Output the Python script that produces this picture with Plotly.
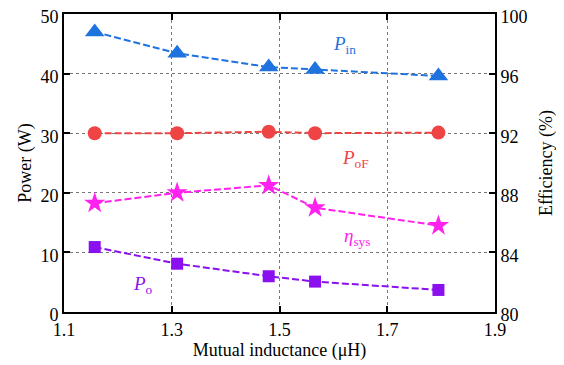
import plotly.graph_objects as go

mutual_inductance = [1.157, 1.31, 1.48, 1.566, 1.795]
p_in = [47.0, 43.4, 41.1, 40.7, 39.6]
p_of = [30.0, 30.0, 30.25, 30.0, 30.1]
p_o = [10.9, 8.1, 6.0, 5.1, 3.7]
eta_sys = [87.3, 88.0, 88.5, 87.0, 85.8]

left_ticks = [0, 10, 20, 30, 40, 50]
right_ticks = [80, 84, 88, 92, 96, 100]
x_ticks = [1.1, 1.3, 1.5, 1.7, 1.9]

C_IN = "#1f73de"
C_OF = "#ee4444"
C_ETA = "#ff22ee"
C_O = "#8a10f0"
FONT = "Times New Roman, Liberation Serif, serif"

fig = go.Figure()
dash = "7px,3px"
fig.add_trace(go.Scatter(x=mutual_inductance, y=p_in, mode="lines+markers",
                         line=dict(color=C_IN, width=2, dash=dash),
                         marker=dict(symbol="triangle-up", size=17, color=C_IN)))
fig.add_trace(go.Scatter(x=mutual_inductance, y=p_of, mode="lines+markers",
                         line=dict(color=C_OF, width=2, dash=dash),
                         marker=dict(symbol="circle", size=14, color=C_OF)))
fig.add_trace(go.Scatter(x=mutual_inductance, y=eta_sys, mode="lines+markers", yaxis="y2",
                         line=dict(color=C_ETA, width=2, dash=dash),
                         marker=dict(symbol="star", size=16, color=C_ETA)))
fig.add_trace(go.Scatter(x=mutual_inductance, y=p_o, mode="lines+markers",
                         line=dict(color=C_O, width=2, dash=dash),
                         marker=dict(symbol="square", size=12, color=C_O)))

ann_font = dict(family=FONT, size=19)
fig.add_annotation(x=1.62, y=44.8, text="<i>P</i><sub>in</sub>", showarrow=False,
                   font=dict(ann_font, color=C_IN))
fig.add_annotation(x=1.641, y=25.7, text="<i>P</i><sub>oF</sub>", showarrow=False,
                   font=dict(ann_font, color=C_OF))
fig.add_annotation(x=1.643, y=12.6, text="<i>η</i><sub>sys</sub>", showarrow=False,
                   font=dict(ann_font, color=C_ETA))
fig.add_annotation(x=1.246, y=4.6, text="<i>P</i><sub>o</sub>", showarrow=False,
                   font=dict(ann_font, color=C_O))

axis_common = dict(showline=True, linecolor="black", linewidth=2, ticks="inside",
                   ticklen=6, tickwidth=2, tickcolor="black", zeroline=False,
                   automargin=False, ticklabeloverflow="allow",
                   tickfont=dict(family=FONT, size=18, color="black"))

fig.update_layout(
    width=564, height=365,
    margin=dict(l=56, r=77, t=6, b=61, autoexpand=False),
    plot_bgcolor="white", paper_bgcolor="white",
    showlegend=False,
    font=dict(family=FONT, size=18, color="black"),
    xaxis=dict(axis_common, range=[1.1, 1.9], tickvals=x_ticks,
               ticktext=[f"{v:.1f}" for v in x_ticks], mirror="ticks",
               showgrid=True, gridcolor="#777777", griddash="dot", gridwidth=1,
               title=dict(text="Mutual inductance (μH)", standoff=0,
                          font=dict(family=FONT, size=18))),
    yaxis=dict(axis_common, range=[0, 50], tickvals=left_ticks, ticklabelshift=3,
               showgrid=True, gridcolor="#777777", griddash="dot", gridwidth=1,
               title=dict(text="Power (W)", standoff=4,
                          font=dict(family=FONT, size=18))),
    yaxis2=dict(axis_common, range=[80, 100], tickvals=right_ticks, overlaying="y",
                side="right", showgrid=False, ticklabelshift=3,
                title=dict(text="Efficiency (%)", standoff=13,
                           font=dict(family=FONT, size=18))),
)

fig.write_html("out.html")
